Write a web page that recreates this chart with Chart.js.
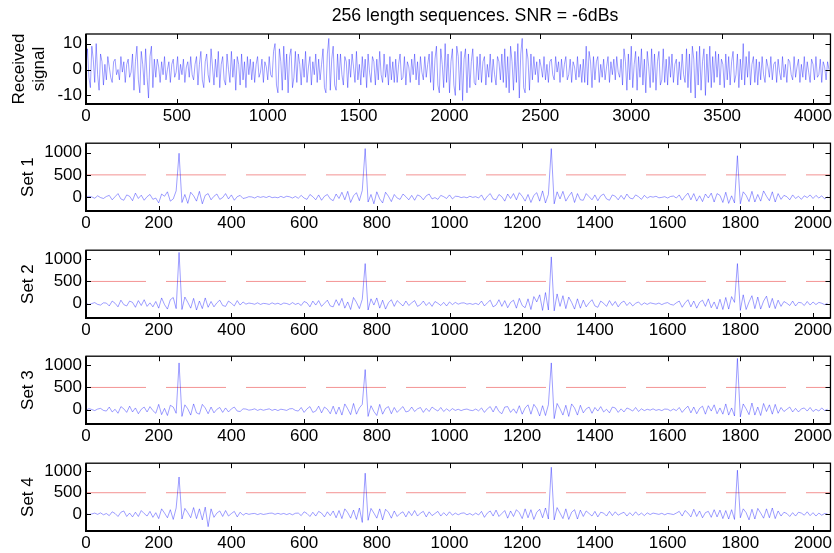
<!DOCTYPE html>
<html>
<head>
<meta charset="utf-8">
<script src="https://cdn.jsdelivr.net/npm/chart.js@4"></script>
<style>
  body { margin: 0; background: #fff; }
  #fig { position: relative; width: 834px; height: 553px; }
  #fig canvas { position: absolute; left: 0; }
</style>
</head>
<body>
<div id="fig"></div>
<script>
const titleText = "256 length sequences. SNR = -6dBs";

// received signal, one value read every 8 samples
const rxStep = 8;
const rxValues = [
  1, 8, -3, -7, 9, 4, -5, 10, -2, -8, 6, 3, -6,
  2, -4, 5, 1, -3, -5, 3, 4, -2, 0, -4, 5, -1, 3, -5, 2, 4, -3, -1,
  6, -8, 3, 9, -4, -9, 7, 2, -6, 8, -3, -11, 5, 9, -7, 4,
  -3, 4, 1, -5, 3, -2, 5, -4, 0, 3, -5, 2, 4, -3, -1, 5, -4, 2, -2, 4, -5, 1, 3, -3, 5, -2, -4, 2,
  5, -6, 2, 7, -4, -7, 3, 6, -2, -5, 8, 1, -6, 4, -3, 7, -7, 2, 5, -4, -6, 6, 0, -5, 7, -3, 4, -8, 5, 2, -6, 6, -4, 3, -7, 5, -2, 4,
  -4, 3, -5, 2, 5, -3, -1, 4, -5, 3, 1, -4, 5, -2, -3,
  7, 10, -6, -9, 8, 3, -8, 9, -4, 6, -9, 5, 8, -7, -3, 7,
  -5, 6, 2, -6, 4, -3, 7, -5, 1, 5, -6, 3, -2, 6, -5, 4, -4, 2,
  8, -7, -9, 6, 12, -8, 4, 9, -6, -8, 6,
  -4, 6, -2, -6, 5, 3, -7, 4, -3, 6, 1, -5, 7, -4, 2, -6, 5, -3, 4, -7, 6, -1, -5, 5, 3, -6, 4, -4, 7, -2, -5, 6, -3, 2, -6, 5, -4, 3, -5,
  4, -5, 2, 6, -4, -3, 5, -6, 3, 1, -5, 4, -2, 6, -4, 3, -6, 5, -1, -4, 5, -3, 2, 6, -5,
  7, -8, 4, 9, -6, -9, 8, 2, -7, 10, -5, 6, -9, 3, 8, -6, -10, 9, 5, -8, 7, -12, 4, 8, -9, 6, -7, 3, 8, -5, -6, 5,
  -4, 6, -5, 3, 5, -6, 2, -3, 6, -5, 4, -2, -6, 5, 3, -4, 6, -5,
  8, -7, 5, -9, 9, 3, -8, 7, -5, 10, -11, 6, 12, -7, -9, 8, 4, -8, 6,
  -4, 5, -2, 3, -5, 4, 1, -3, 5, -4, 2, -5, 3, 4, -2, -4, 5, -1, 3, -5, 4, -3, 2, 5, -4, -2, 4, -5, 3, 1, -4, 5, -3, 2, -5, 4,
  -5, 9, -6, 7, 3, -7, 5,
  -4, 3, 5, -5, 2, -3, 4, -4, 1, 5, -5, 3, -2, 4, -4, 5, -1, -3, 4,
  -6, 8, 3, -8, 6, -4, 9, -7, 2, 7, -8, 5, -3, 8, -6, 4, -9, 7, 1, -7, 8, -5, 6, -8, 3, 7, -6, -4, 8, -5,
  4, -6, 5, -3, 6, -5, 2, 4, -6, 3, -4, 6, -2, -5,
  8, -7, 6, -9, 9, 4, -11, 7, -6, 9, -8, 3, 8, -10, 6, -5, 9, -7, 5,
  -5, 7, -3, 6, -6, 4, 2, -7, 6, -4, 5, -6, 3, 7, -5, -2, 6, -7, 4, -4, 10, -6, 5, -3, 7, -6, 2, 5, -5, 4, -6,
  3, -4, 5, -2, -5, 4, 1, -3, 5, -4, 2, 3, -5, 4, -1, -4, 5, -3, 2, -5, 4, 3, -2, -4, 5, -3, 1, 4, -5, 2, -3, 5, -4, 3, -1, -5, 4, 2, -4, 5, -3, -2, 4, -5, 3, 1, -4, 3, 0
];

// correlator outputs, one value read every 8 samples
const setStep = 8;
const set1 = [
  0, 20, 5, -25, 30, -10, -30, 15,
  40, -60, 10, 80, -40, -70, 50, 20, -80, 90, -30, 45, -70, 10, 60, -50, -20,
  -130, 70, 20, 120, -90, -40, 140, 985, -120, 60, -140, 110, 30, -90, 130, -150, 40, 80,
  -60, 20, 70, -50, -10, 80, -40, 50, -70, 10, 40, -30,
  -15, 10, 5, -20, 15, -5, 12, -8, 20, -12, 0, -15, 18, -10, 20, 8, -20, 15, -25,
  40, -20, -50, 60, 10, -60, 50, -70, 20, 60, -40, -80, 70, -30,
  110, -60, 130, -120, 30, 100, -80, 150, 1090, -110, 60, -150, 120, -40, -130, 110, 20, -100,
  60, -20, -50, 70, 10, -60, 40, -70, 50, 20, -60, 30, 70, -40, -10, -50, 40, 10, -30, 50, -40, 20,
  15, -10, 5, -15, 20, -5, 10, -20,
  50, -70, 20, 80, -40, -60, 60, 10, -90, 70, -30, 80, -60, 100, 20, -90, 60,
  -120, 40, 100, -90, 140, -130, 60, 1090, -150, 120, -40, 130, -90, 20, 110, -120, 80, -60,
  -70, 80, 10, -60, 50, -80, 30, 70, -40, -70, 50, 20, -60, 40, -50, 70, -20, -40, 50, 10, -50, 40,
  -20, 15, 0, 20, -15, -5, 10, -20, 15, 25, -20,
  50, -70, 20, 90, -60, 80, -90, 30, -100, 70, -20, 90, -110, 80, 40, -120,
  110, -140, 30, -130, 930, -150, 120, 40, -100, 130, -110, 60, -90, 140, 20, -80, 120, -110, 80,
  -50, 40, 10, -60, 50, -30, 20, -50, 30, -10, 50, -30, 40, -20, 30, -40, 10
];
const set2 = [
  10, -20, 5, 25, -15, -30, 20, 15,
  -50, 60, 10, -70, 80, -20, -50, 60, 30, -80, 70, -40, 90, -60, 20, -70, 50,
  -100, 130, -20, -120, 90, 140, -110, 1150, -130, 150, 30, -100, 120, -140, 60, -110, 130, -80,
  50, -70, 20, 80, -40, -60, 60, 10, -50, 70, -30, 40,
  -10, 15, 5, -12, 20, -15, 8, 0, -15, 20, -10, 12, -20, 15, 5, -20, 25, -15, 10,
  -40, 50, 20, -70, 60, -30, 70, -60, 10, 80, -50, -70, 90, -40,
  120, -100, 40, -130, 140, 30, -110, 100, 900, -140, 110, -30, 130, -100, 80, -120, 20, 90,
  -60, 70, 10, -50, 60, -40, 20, 70, -60, -20, 60, -40, 30, -60, 50, 10, -40, 30, -50, 40, -20, 30,
  -10, 15, 20, -10, 5, -15, 8, -20,
  60, -50, 20, 80, -70, -30, 90, -60, 70, -90, 30, 80, -100, 120, -40, -90, 110,
  -130, 160, 40, 200, -150, 250, -140, 1050, -160, 220, -60, 180, -110, 150, 30, -120, 110, -100,
  80, -70, 20, 90, -50, -80, 60, 10, -60, 70, -40, 50, -70, 20, 60, -40, 30, -50, 10, 40, -30, 20,
  -15, 20, 5, -10, 15, -20, 10, 25, -15, -30, 20,
  60, -80, 20, 90, -70, 60, -100, 30, 80, -60, 110, -90, 40, -120, 100, -130,
  140, -120, 160, 30, 900, -150, 200, -130, 40, 180, -110, 150, -120, 60, 170, -90, 120, -110, 80,
  -60, 50, 10, -40, 60, -50, 30, 20, -40, 50, -30, 40, -20, 30, 10, -20, 10
];
const set3 = [
  -10, 25, 5, -20, 15, 30, -15, -30,
  60, -50, 10, -80, 70, 20, -60, 80, -50, 40, -90, 10, 60, -50, 70, -20, -80,
  120, -110, 30, -130, 100, 60, -80, 1050, -150, 110, 20, -120, 130, -70, -100, 120, 40, -90,
  60, -70, 10, 50, -60, 40, -50, 20, 60, -30, -40, 20,
  15, -10, 0, 20, -15, 10, -12, 5, 20, -15, 10, -20, 12, 0, -15, 20, 25, -15, -30,
  50, -60, 20, 70, -60, -30, 80, -70, 60, 10, -90, 80, -100, 60,
  -120, 130, 20, -110, 140, -100, 40, 120, 900, -150, 90, -40, -130, 120, -100, 30, 70, -90,
  50, -60, 10, 70, -50, -30, 60, -40, 20, 50, -60, 30, -40, 60, 10, -30, 50, -40, 20, -30, 25, -15,
  10, -20, 5, 15, -10, -20, 15, -25,
  40, -60, 20, 70, -50, 80, -40, -90, 60, 70, -60, 20, -80, 90, -100, 40, 110,
  -100, 120, 30, -140, 90, -130, 110, 1050, -200, 140, 20, -120, 100, -150, 130, 40, -120, 100,
  -70, 20, 60, -80, 50, -30, 70, -50, 10, -70, 60, 40, -60, 20, -50, 40, 10, -30, 50, -40, 20, -20,
  10, -10, 20, -15, 5, -20, 15, 10, -25, 15, -20,
  50, -60, 20, 80, -70, 60, -90, 30, 80, -100, 90, -30, 110, -90, 40, -100,
  130, -120, 40, -140, 1150, -160, 130, 20, -110, 150, -120, 60, -130, 140, -40, 110, -100, 120, -80,
  50, -40, 10, 60, -50, 30, -50, 20, 40, -30, 50, -40, 10, -30, 40, -20, 10
];
const set4 = [
  5, -15, 0, 20, -10, 25, -20, 10,
  -40, 50, 10, -60, 40, 70, -60, 20, -70, 40, -60, 80, 10, -50, 60, -80, 30,
  -110, 120, 20, -90, 100, -130, 140, 870, -120, 130, 30, -90, 150, -110, 120, -140, 160, -300,
  120, -80, 20, 70, -60, 80, -50, 10, 60, -70, 40, -30,
  15, -10, 5, 12, -15, 8, -12, 0, 15, 20, -10, 15, -8, 12, -15, 10, -20, 15, 20,
  -40, 50, 10, -60, 40, -50, 60, 20, -70, 50, -40, 70, -90, 80,
  -110, 120, 30, -100, 90, -130, 140, -200, 960, -150, 130, 20, -100, 120, -140, 110, 40, -100,
  70, -60, 10, 50, -70, 60, -40, 80, -50, 20, 60, -70, 50, -40, 10, 60, -50, 30, -40, 50, -30, 20,
  -20, 15, 25, -20, 10, -30, 20, -25,
  60, -80, 20, 70, -50, 90, -60, 10, 80, -100, 70, -60, 100, 30, -110, 120, -90,
  100, -130, 40, 110, -90, 140, -120, 1100, -140, 150, 20, -110, 120, -130, 40, 100, -120, 90,
  -60, 70, 10, -50, 60, -70, 40, 20, -50, 60, -40, 50, -30, 10, 40, -50, 30, -40, 50, -30, 20, -40,
  25, -15, 20, 5, -10, 15, -20, 12, 0, -15, 20,
  60, -50, 80, 20, -70, 110, -60, 70, -90, 30, 60, -80, 100, -70, 90, -110,
  80, -120, 100, -130, 1030, -90, 120, 30, -140, 110, -120, 130, 20, -100, 120, -90, 140, -110, 70,
  -50, 40, 10, -60, 30, -50, 40, 20, -30, 50, -40, 30, -50, 20, -30, 10, 0
];
const setNames = ["Set 1", "Set 2", "Set 3", "Set 4"];
const threshold = 500;

const rxXTicks = [0, 500, 1000, 1500, 2000, 2500, 3000, 3500, 4000];
const rxYTicks = [-10, 0, 10];
const setXTicks = [0, 200, 400, 600, 800, 1000, 1200, 1400, 1600, 1800, 2000];
const setYTicks = [0, 500, 1000];

Chart.defaults.font.family = "'Liberation Sans', Arial, sans-serif";
Chart.defaults.font.size = 17;
Chart.defaults.color = "#000";

const W = 834;
const boxH = 70;

// inward matlab-style ticks + axes box
const boxPlugin = {
  id: "box",
  afterDraw(chart) {
    const { ctx, chartArea: a, scales } = chart;
    ctx.save();
    ctx.strokeStyle = "#000";
    ctx.lineWidth = 1;
    ctx.beginPath();
    scales.x.ticks.forEach(t => {
      const px = Math.round(scales.x.getPixelForValue(t.value)) + 0.5;
      ctx.moveTo(px, a.bottom); ctx.lineTo(px, a.bottom - 5);
      ctx.moveTo(px, a.top); ctx.lineTo(px, a.top + 5);
    });
    scales.y.ticks.forEach(t => {
      const py = Math.round(scales.y.getPixelForValue(t.value)) + 0.5;
      ctx.moveTo(a.left, py); ctx.lineTo(a.left + 5, py);
      ctx.moveTo(a.right, py); ctx.lineTo(a.right - 5, py);
    });
    ctx.stroke();
    ctx.lineWidth = 1.3;
    ctx.strokeRect(a.left, a.top, a.right - a.left, a.bottom - a.top);
    ctx.lineWidth = 2;
    ctx.beginPath();
    ctx.moveTo(a.left, a.top); ctx.lineTo(a.left, a.bottom); ctx.lineTo(a.right, a.bottom);
    ctx.stroke();
    ctx.restore();
  }
};

const titlePlugin = {
  id: "figTitle",
  afterDraw(chart) {
    if (!chart.options.plugins.figTitle.show) return;
    const ctx = chart.ctx;
    ctx.save();
    ctx.font = "17.7px 'Liberation Sans', Arial, sans-serif";
    ctx.fillStyle = "#000";
    ctx.textAlign = "center";
    ctx.textBaseline = "middle";
    ctx.fillText(titleText, 475, 16);
    ctx.restore();
  }
};

function makePanel(opts) {
  const cv = document.createElement("canvas");
  cv.width = W;
  cv.height = opts.padTop + boxH + 30;
  cv.style.top = opts.canvasTop + "px";
  document.getElementById("fig").appendChild(cv);

  const noise = opts.values.map((v, i) => ({ x: i * opts.step, y: v }));
  const datasets = [{
    data: noise,
    borderColor: "rgba(0,0,255,0.55)",
    borderWidth: 0.7,
    pointRadius: 0,
    tension: 0,
    order: 0
  }];
  if (opts.threshold !== undefined) {
    datasets.push({
      data: [{ x: 0, y: opts.threshold }, { x: opts.xMax, y: opts.threshold }],
      borderColor: "rgba(240,120,120,0.8)",
      borderWidth: 1,
      borderDash: [60, 20],
      pointRadius: 0,
      order: 1
    });
  }
  const xTicks = opts.xTicks, yTicks = opts.yTicks;
  new Chart(cv, {
    type: "line",
    data: { datasets },
    plugins: [boxPlugin, titlePlugin],
    options: {
      responsive: false,
      animation: false,
      devicePixelRatio: 1,
      layout: { padding: { top: opts.padTop, left: 0, right: 3, bottom: 0 } },
      plugins: { legend: { display: false }, tooltip: { enabled: false }, figTitle: { show: !!opts.title } },
      scales: {
        x: {
          type: "linear",
          min: 0,
          max: opts.xMax,
          grid: { display: false, drawTicks: false },
          border: { display: false },
          ticks: { padding: 2, maxRotation: 0, autoSkip: false, callback: v => String(v) },
          afterBuildTicks: s => { s.ticks = xTicks.map(v => ({ value: v })); },
          afterFit: s => { s.height = cv.height - opts.padTop - boxH; }
        },
        y: {
          type: "linear",
          min: opts.yMin,
          max: opts.yMax,
          grid: { display: false, drawTicks: false },
          border: { display: false },
          ticks: { padding: 4, autoSkip: false, callback: v => String(v) },
          afterBuildTicks: s => { s.ticks = yTicks.map(v => ({ value: v })); },
          afterFit: s => { s.width = 86; },
          title: {
            display: true,
            text: opts.yLabel,
            font: { size: 17 },
            padding: { top: opts.titlePad, bottom: 0 }
          }
        }
      }
    }
  });
}

makePanel({
  canvasTop: 0, padTop: 34, step: rxStep, values: rxValues,
  xMax: 4096, yMin: -13.3, yMax: 13.7, xTicks: rxXTicks, yTicks: rxYTicks,
  yLabel: ["Received", "signal"], titlePad: 9, title: true
});

const setTops = [141, 248, 354, 461];
const setRanges = [[-311, 1211], [-320, 1200], [-320, 1200], [-402, 1195]];
[set1, set2, set3, set4].forEach((vals, k) => {
  makePanel({
    canvasTop: setTops[k] - 12, padTop: 12, step: setStep, values: vals,
    xMax: 2048, yMin: setRanges[k][0], yMax: setRanges[k][1], xTicks: setXTicks, yTicks: setYTicks,
    yLabel: setNames[k], titlePad: 18, threshold: threshold
  });
});
</script>
</body>
</html>
